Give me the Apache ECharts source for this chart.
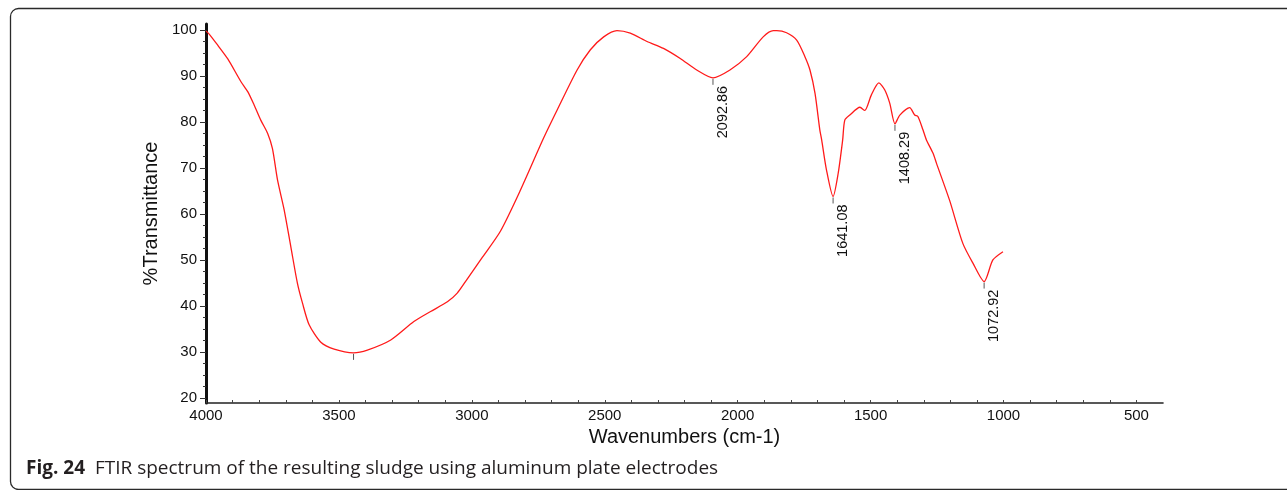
<!DOCTYPE html>
<html>
<head>
<meta charset="utf-8">
<script src="https://cdn.jsdelivr.net/npm/echarts@6/dist/echarts.min.js"></script>
<style>
  html, body { margin: 0; padding: 0; background: #fff; }
  #chart { width: 1287px; height: 490px; }
</style>
</head>
<body>
<div id="chart"></div>
<script>
// FTIR spectrum: wavenumber (cm-1) and %T, highest wavenumber first
const wavenumbers = [
  4000, 3985, 3956, 3918, 3869, 3843, 3819, 3794, 3768, 3750, 3731, 3706, 3681, 3656, 3637, 3612,
  3568, 3518, 3445, 3393, 3305, 3218, 3155, 3092, 3055, 3024, 2960, 2892, 2817, 2730, 2679, 2604,
  2554, 2504, 2454, 2404, 2341, 2279, 2216, 2154, 2092.86, 2029, 1966, 1904, 1866, 1853, 1816, 1778,
  1747, 1728, 1709, 1691, 1684, 1666, 1641.08, 1622, 1605, 1597, 1578, 1540, 1522, 1497, 1469, 1447,
  1428, 1408.29, 1390, 1353, 1334, 1322, 1303, 1290, 1265, 1252, 1203, 1153, 1115, 1072.92, 1040, 1002
];
const transmittance = [
  99.8, 98.9, 96.7, 93.7, 88.8, 86.6, 83.7, 80.4, 77.5, 74.2, 67.4, 60.9, 52.9, 44.9, 40.6, 35.9,
  32.1, 30.6, 29.8, 30.4, 32.6, 36.6, 38.8, 40.9, 42.8, 45.3, 50.6, 56.3, 65.2, 76.5, 82.6, 91.3,
  95.7, 98.5, 99.85, 99.3, 97.5, 96.0, 93.8, 91.3, 89.6, 91.3, 94.2, 98.5, 99.85, 99.85, 99.4, 97.8,
  94.2, 91.3, 86.2, 78.3, 76.1, 69.6, 63.8, 68.8, 76.1, 80.4, 81.5, 83.2, 82.5, 85.9, 88.5, 87.0,
  84.1, 79.6, 81.5, 83.1, 81.5, 81.2, 78.3, 76.1, 73.2, 71.0, 63.0, 53.6, 49.3, 45.3, 50.0, 51.8
];

// Band minima marked on the trace (the first one carries no number)
const markedBands = [3445, 2092.86, 1641.08, 1408.29, 1072.92];
const bandLabels  = ['', '2092.86', '1641.08', '1408.29', '1072.92'];

// Axis tick values
const xLabelValues = [4000, 3500, 3000, 2500, 2000, 1500, 1000, 500];
const xMinorValues = [];
for (let w = 500; w <= 4000; w += 100) xMinorValues.push(w);
const yLabelValues = [20, 30, 40, 50, 60, 70, 80, 90, 100];
const yMinorValues = [];
for (let v = 20; v <= 100; v += 2.5) yMinorValues.push(v);

const lineData = wavenumbers.map((w, i) => [w, transmittance[i]]);
const bandData = markedBands.map((w, i) => [w, transmittance[wavenumbers.indexOf(w)], i]);

const FONT = 'Liberation Sans, Arial, sans-serif';
const CAPTION_FONT = 'Open Sans, Noto Sans, sans-serif';
const chart = echarts.init(document.getElementById('chart'), null, { renderer: 'canvas' });

chart.setOption({
  animation: false,
  backgroundColor: '#ffffff',
  grid: { left: 206, right: 124, top: 24, bottom: 87 },
  xAxis: {
    type: 'value',
    inverse: true,
    min: 400,
    max: 4000,
    name: 'Wavenumbers (cm-1)',
    nameLocation: 'middle',
    nameGap: 24,
    nameTextStyle: { fontFamily: FONT, fontSize: 20, color: '#111' },
    axisLine: { show: true, onZero: false, lineStyle: { color: '#222', width: 1.6 } },
    axisTick: { show: true, inside: true, length: 3, customValues: xMinorValues, lineStyle: { color: '#444', width: 1 } },
    axisLabel: {
      customValues: xLabelValues,
      formatter: v => String(v),
      margin: 5, fontFamily: FONT, fontSize: 15, color: '#111'
    },
    splitLine: { show: false }
  },
  yAxis: [
    {
      type: 'value',
      min: 18.9,
      max: 101.3,
      name: '%Transmittance',
      nameLocation: 'middle',
      nameGap: 45,
      nameTextStyle: { fontFamily: FONT, fontSize: 20, color: '#111' },
      axisLine: { show: true, onZero: false, lineStyle: { color: '#111', width: 3 } },
      axisTick: { show: true, length: 6, customValues: yLabelValues, lineStyle: { color: '#333', width: 1 } },
      axisLabel: { customValues: yLabelValues, formatter: v => String(v), margin: 9, fontFamily: FONT, fontSize: 15, color: '#111' },
      splitLine: { show: false }
    },
    {
      type: 'value',
      min: 18.9,
      max: 101.3,
      position: 'left',
      axisLine: { show: false },
      axisTick: { show: true, length: 3, customValues: yMinorValues, lineStyle: { color: '#333', width: 1 } },
      axisLabel: { show: false },
      splitLine: { show: false }
    }
  ],
  series: [
    {
      type: 'line',
      data: lineData,
      showSymbol: false,
      smooth: 0.25,
      lineStyle: { color: '#ff1a1a', width: 1.3 },
      z: 3
    },
    {
      type: 'custom',
      data: bandData,
      z: 4,
      renderItem: function (params, api) {
        const p = api.coord([api.value(0), api.value(1)]);
        const label = bandLabels[api.value(2)];
        const children = [{
          type: 'line',
          shape: { x1: p[0], y1: p[1] + 1, x2: p[0], y2: p[1] + 7 },
          style: { stroke: '#555', lineWidth: 1 }
        }];
        if (label) {
          children.push({
            type: 'text',
            x: p[0] + 10,
            y: p[1] + 8,
            rotation: Math.PI / 2,
            style: {
              text: label,
              align: 'right',
              verticalAlign: 'middle',
              fontFamily: FONT,
              fontSize: 14.5,
              fill: '#111'
            }
          });
        }
        return { type: 'group', children: children };
      }
    }
  ],
  graphic: [
    {
      type: 'rect',
      shape: { x: 10.5, y: 8.5, width: 1300, height: 481, r: 8 },
      style: { fill: 'none', stroke: '#2a2a2a', lineWidth: 1.3 },
      silent: true
    },
    {
      type: 'text',
      left: 26,
      top: 459,
      style: {
        text: '{b|Fig. 24}  FTIR spectrum of the resulting sludge using aluminum plate electrodes',
        fontFamily: CAPTION_FONT,
        fontSize: 19,
        fill: '#231f20',
        rich: {
          b: { fontFamily: CAPTION_FONT, fontSize: 19, fontWeight: 'bold', fill: '#231f20' }
        }
      }
    }
  ]
});
</script>
</body>
</html>
